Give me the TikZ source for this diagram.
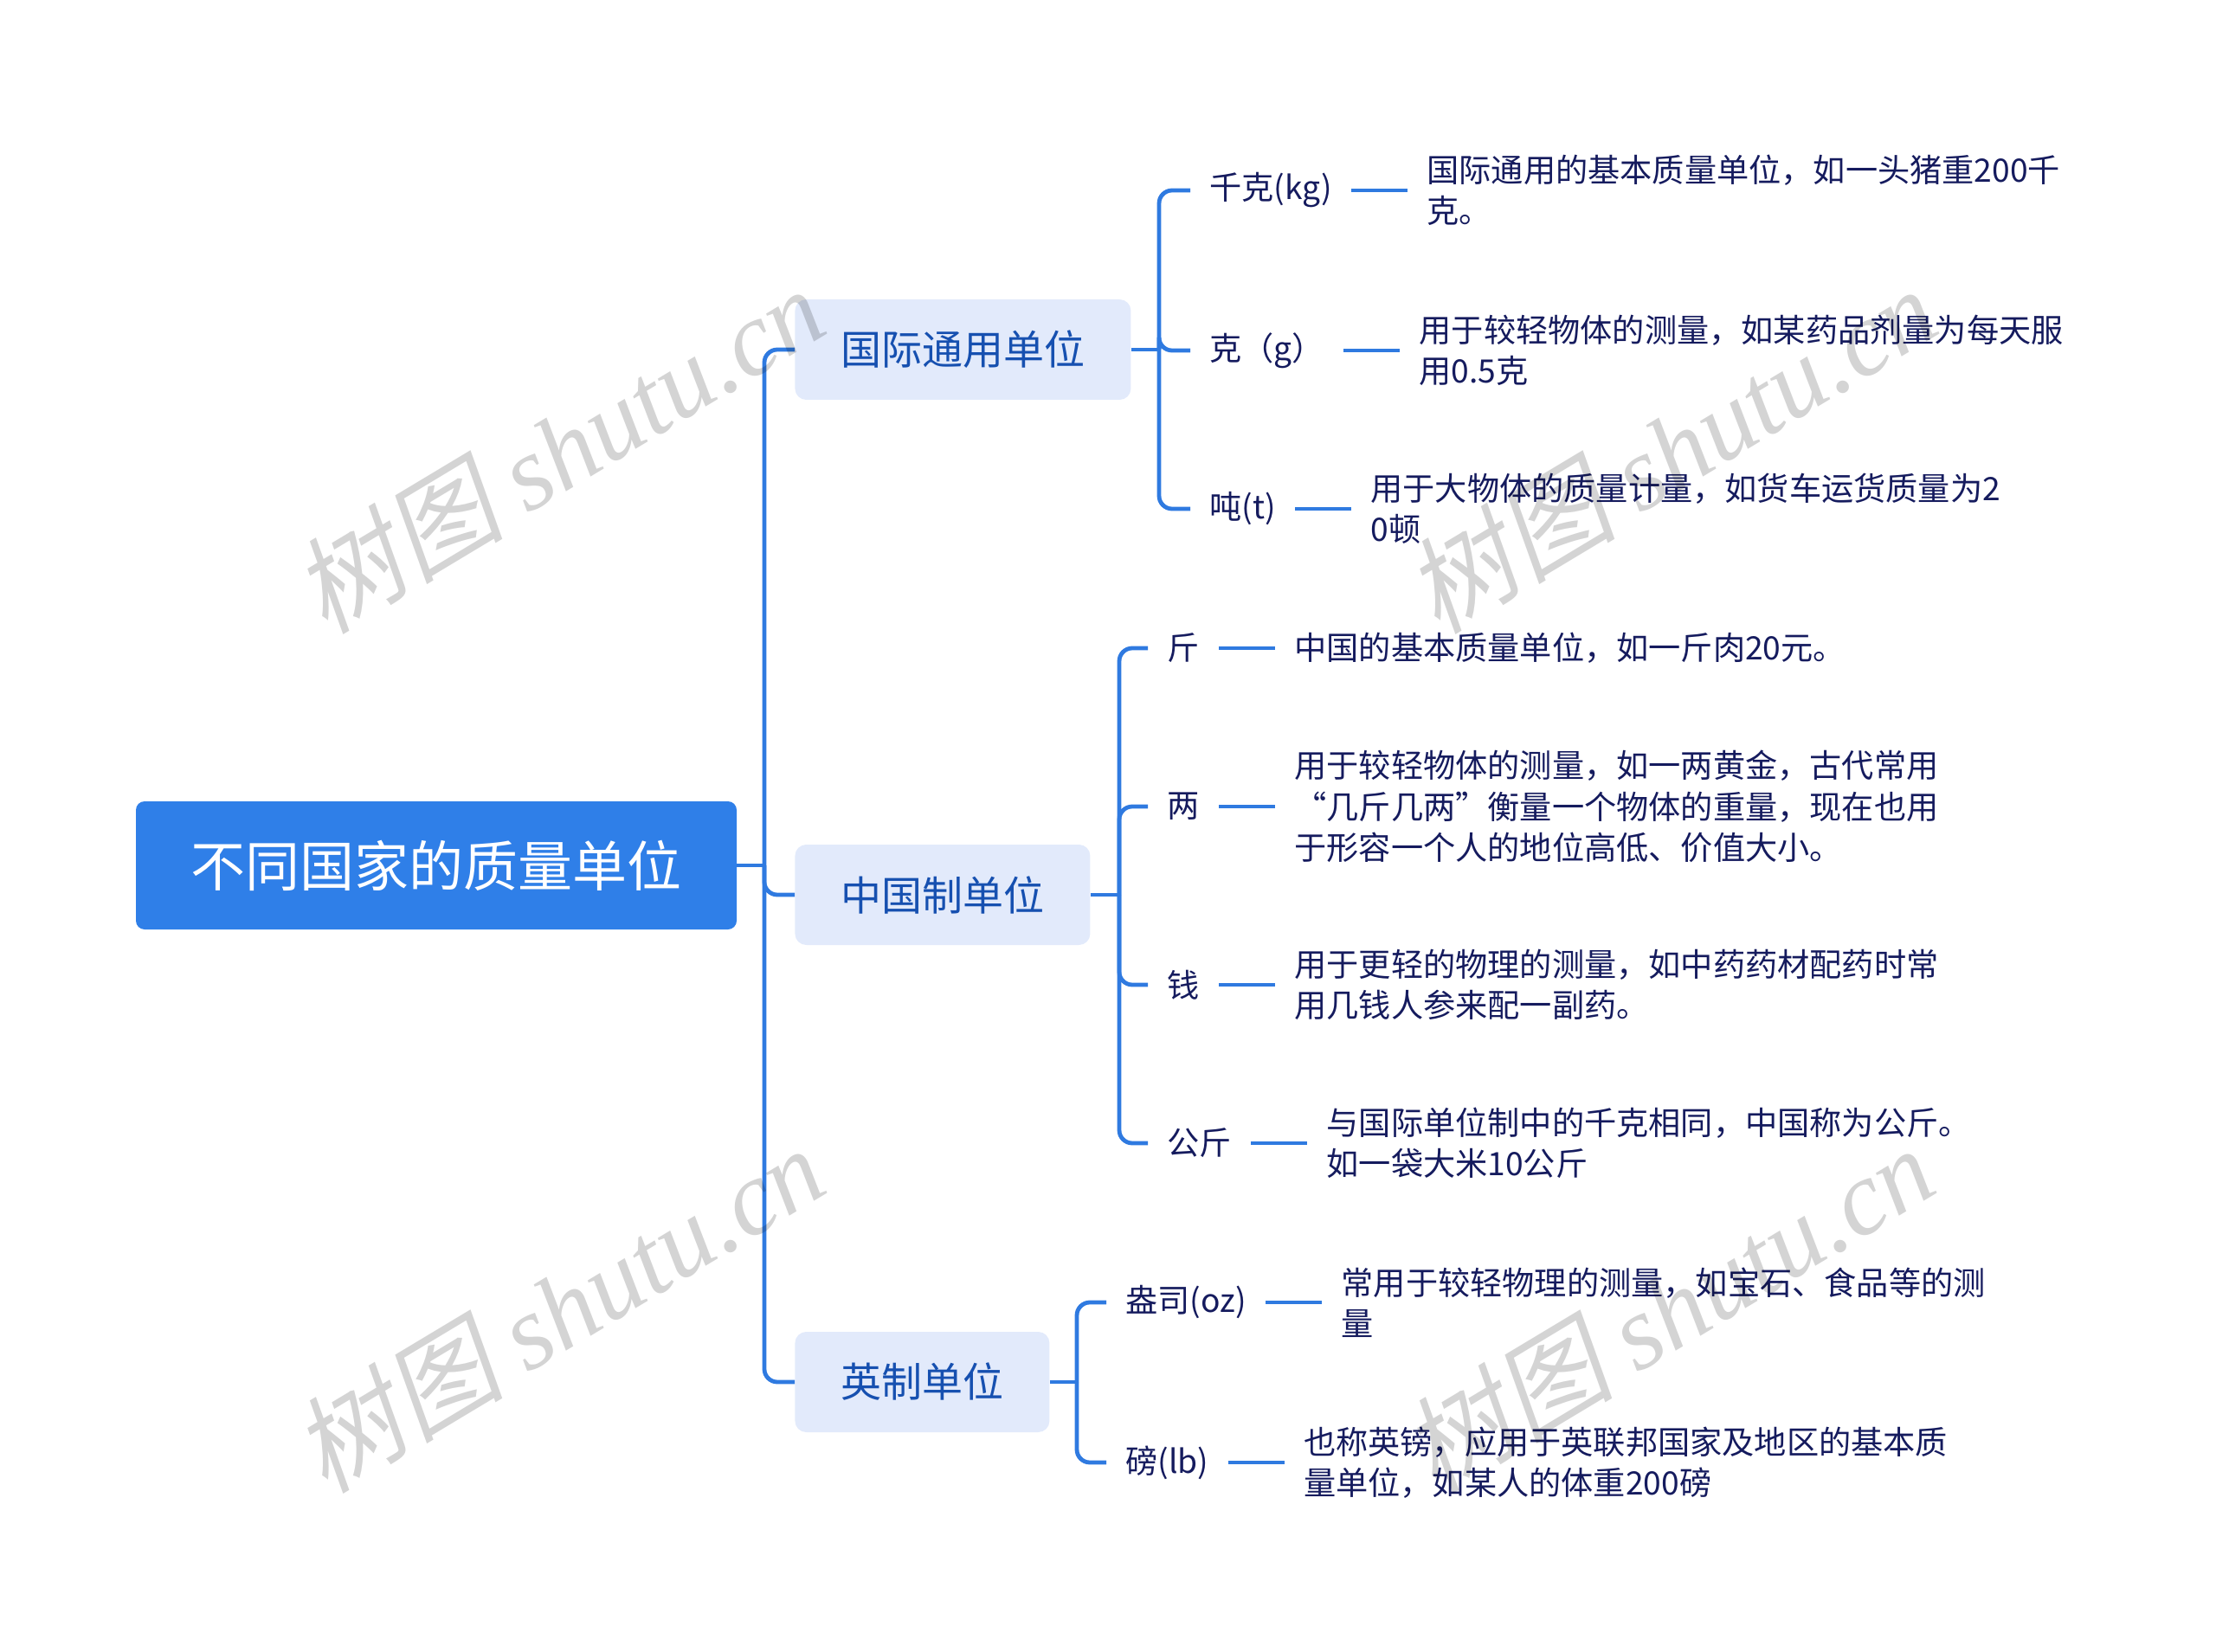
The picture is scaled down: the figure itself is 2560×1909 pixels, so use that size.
\documentclass[tikz,border=0pt]{standalone}
\usepackage{fontspec}
\setmainfont{Noto Sans CJK SC}
\newfontfamily\wmcjk{Noto Sans CJK SC}[FakeSlant=0.2]
\newfontfamily\wmlat{Liberation Serif}
\usetikzlibrary{positioning}
\definecolor{rootblue}{HTML}{2F7FE8}
\definecolor{lineblue}{HTML}{2F7AE0}
\definecolor{lvfill}{HTML}{E2EAFB}
\definecolor{lvtext}{HTML}{1650B0}
\definecolor{navy}{HTML}{151B5E}
\begin{document}
\begin{tikzpicture}[x=0.5pt,y=-0.5pt,
 rootbox/.style={fill=rootblue, text=white, rounded corners=5pt, inner xsep=31.75pt, minimum height=74pt, font=\fontsize{31.5}{36}\selectfont},
 topic/.style={fill=lvfill, text=lvtext, rounded corners=6.5pt, inner xsep=26.5pt, minimum height=58pt, anchor=west, font=\fontsize{23.5}{28}\selectfont},
 unit/.style={text=navy, inner xsep=11pt, inner ysep=4pt, anchor=west, font=\fontsize{18.6}{23.6}\selectfont},
 desc/.style={text=navy, inner xsep=11pt, inner ysep=4pt, align=left, font=\fontsize{18.6}{23.6}\selectfont},
 conn/.style={draw=lineblue, line width=2.4pt, rounded corners=7.5pt},
 wm/.style={text=black, text opacity=0.17, rotate=31, font=\fontsize{61}{66}\selectfont}
]
\useasboundingbox (0,0) rectangle (2560,1909);

% root and topics
\node[rootbox] (root) at (504,1000) {不同国家的质量单位};
\node[topic] (ta) at (918,404) {国际通用单位};
\node[topic] (tb) at (918,1034) {中国制单位};
\node[topic] (tc) at (918,1597) {英制单位};

\coordinate (t0) at (883,1000);
\draw[conn] (root.east) -- (t0);
\draw[conn] (t0) |- (ta.west);
\draw[conn] (t0) |- (tb.west);
\draw[conn] (t0) |- (tc.west);

% group A
\node[unit] (a1) at (1375,220) {千克(kg)};
\node[unit] (a2) at (1375,405) {克（g）};
\node[unit] (a3) at (1375,588) {吨(t)};
\node[desc, right=32.5pt of a1] (da1) {国际通用的基本质量单位，如一头猪重200千\\克。};
\node[desc, right=32.5pt of a2] (da2) {用于较轻物体的测量，如某药品剂量为每天服\\用0.5克};
\node[desc, right=32.5pt of a3] (da3) {用于大物体的质量计量，如货车运货质量为2\\0顿};
\coordinate (ja) at (1339,404);
\draw[conn] (ta.east) -- (ja);
\draw[conn] (ja) |- (a1.west);
\draw[conn] (ja) |- (a2.west);
\draw[conn] (ja) |- (a3.west);
\draw[conn] (a1.east) -- (da1.west);
\draw[conn] (a2.east) -- (da2.west);
\draw[conn] (a3.east) -- (da3.west);

% group B
\node[unit] (b1) at (1326,749) {斤};
\node[unit] (b2) at (1326,932) {两};
\node[unit] (b3) at (1326,1138) {钱};
\node[unit] (b4) at (1326,1321) {公斤};
\node[desc, right=32.5pt of b1] (db1) {中国的基本质量单位，如一斤肉20元。};
\node[desc, right=32.5pt of b2] (db2) {用于较轻物体的测量，如一两黄金，古代常用\\“几斤几两”衡量一个物体的重量，现在也用\\于形容一个人的地位高低、价值大小。};
\node[desc, right=32.5pt of b3] (db3) {用于更轻的物理的测量，如中药药材配药时常\\用几钱人参来配一副药。};
\node[desc, right=32.5pt of b4] (db4) {与国际单位制中的千克相同，中国称为公斤。\\如一袋大米10公斤};
\coordinate (jb) at (1293,1034);
\draw[conn] (tb.east) -- (jb);
\draw[conn] (jb) |- (b1.west);
\draw[conn] (jb) |- (b2.west);
\draw[conn] (jb) |- (b3.west);
\draw[conn] (jb) |- (b4.west);
\draw[conn] (b1.east) -- (db1.west);
\draw[conn] (b2.east) -- (db2.west);
\draw[conn] (b3.east) -- (db3.west);
\draw[conn] (b4.east) -- (db4.west);

% group C
\node[unit] (c1) at (1278,1505) {盎司(oz)};
\node[unit] (c2) at (1278,1690) {磅(lb)};
\node[desc, right=32.5pt of c1] (dc1) {常用于较轻物理的测量，如宝石、食品等的测\\量};
\node[desc, right=32.5pt of c2] (dc2) {也称英镑，应用于英联邦国家及地区的基本质\\量单位，如某人的体重200磅};
\coordinate (jc) at (1244,1597);
\draw[conn] (tc.east) -- (jc);
\draw[conn] (jc) |- (c1.west);
\draw[conn] (jc) |- (c2.west);
\draw[conn] (c1.east) -- (dc1.west);
\draw[conn] (c2.east) -- (dc2.west);

% watermarks (on top, translucent)
\node[wm] (wm1) at (645,519) {{\wmcjk 树图} {\wmlat\itshape shutu.cn}};
\node[wm] (wm2) at (1930,519) {{\wmcjk 树图} {\wmlat\itshape shutu.cn}};
\node[wm] (wm3) at (645,1512) {{\wmcjk 树图} {\wmlat\itshape shutu.cn}};
\node[wm] (wm4) at (1927,1512) {{\wmcjk 树图} {\wmlat\itshape shutu.cn}};
\end{tikzpicture}
\end{document}
